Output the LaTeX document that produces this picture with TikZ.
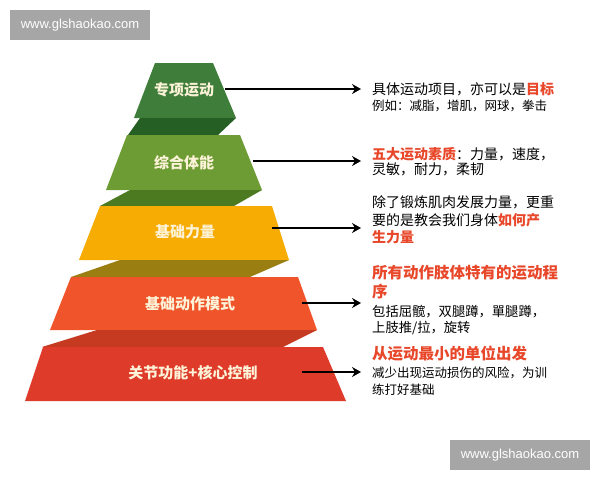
\documentclass[tikz,border=0pt]{standalone}
\usepackage{fontspec}
\setmainfont{Liberation Sans}
\newfontfamily\cjk{Noto Sans CJK SC}
\usetikzlibrary{arrows.meta}
\definecolor{tierone}{HTML}{3F7D3A}
\definecolor{tiertwo}{HTML}{6E9C34}
\definecolor{tierthree}{HTML}{F6AC02}
\definecolor{tierfour}{HTML}{F0542B}
\definecolor{tierfive}{HTML}{DE3B2B}
\definecolor{foldone}{HTML}{255F24}
\definecolor{foldtwo}{HTML}{4C7A20}
\definecolor{foldthree}{HTML}{9A7E12}
\definecolor{foldfour}{HTML}{C53A20}
\definecolor{labelcream}{HTML}{FDF3D8}
\definecolor{notered}{HTML}{E8472A}
\definecolor{wmgray}{HTML}{A6A6A6}
\tikzset{arrow/.style={-{Stealth[length=9pt,width=10pt,inset=3pt]}, line width=1.9pt, shorten >=11pt}}
\tikzset{tier-label/.style={font=\cjk\bfseries\fontsize{15}{16}\selectfont, text=labelcream}}
\tikzset{note/.style={anchor=base west, inner sep=0pt, font=\cjk\fontsize{14}{16}\selectfont}}
\tikzset{small-note/.style={note, font=\cjk\fontsize{12.5}{14}\selectfont}}
\tikzset{mid-note/.style={note, font=\cjk\fontsize{13.3}{15}\selectfont}}
\tikzset{head-note/.style={note, font=\cjk\bfseries\fontsize{15.5}{17}\selectfont, text=notered}}
\tikzset{watermark/.style={fill=wmgray, text=white, font=\fontsize{13}{15}\selectfont,
  minimum width=140pt, minimum height=30pt, inner sep=0pt}}
\newcommand{\hl}[1]{{\bfseries\color{notered}#1}}

\begin{document}
\begin{tikzpicture}[x=1pt, y=-1pt]
      \fill[white] (0,0) rectangle (600,480);
      \useasboundingbox (0,0) rectangle (600,480);

      \fill[tierone] (155,63) -- (213,63) -- (236,118) -- (134,118) -- cycle;
      \fill[foldone] (140,118) -- (236,118) -- (218,135) -- (128,135) -- cycle;
      \fill[tiertwo] (127,135) -- (240,135) -- (262,190) -- (106,190) -- cycle;
      \fill[foldtwo] (130,190) -- (262,190) -- (234,206) -- (100,206) -- cycle;
      \fill[tierthree] (100,206) -- (272,206) -- (289,260) -- (79,260) -- cycle;
      \fill[foldthree] (120,260) -- (289,260) -- (250,277) -- (71,277) -- cycle;
      \fill[tierfour] (71,277) -- (298,277) -- (317,330) -- (50,330) -- cycle;
      \fill[foldfour] (97,330) -- (317,330) -- (283,347) -- (42,347) -- cycle;
      \fill[tierfive] (43,347) -- (323,347) -- (346,401) -- (25,401) -- cycle;

      \node[tier-label] (l1) at (184,90) {专项运动};
      \node[tier-label] (l2) at (184,163) {综合体能};
      \node[tier-label] (l3) at (185,232) {基础力量};
      \node[tier-label] (l4) at (190,304) {基础动作模式};
      \node[tier-label] (l5) at (193,373) {关节功能+核心控制};

      \node[note] (t1a) at (372,94.3) {具体运动项目，亦可以是\hl{目标}};
      \node[small-note] (t1b) at (372,110.8) {例如：减脂，增肌，网球，拳击};
      \node[note] (t2a) at (372,159.3) {\hl{五大运动素质}：力量，速度，};
      \node[note] (t2b) at (372,174.3) {灵敏，耐力，柔韧};
      \node[note] (t3a) at (372,207.3) {除了锻炼肌肉发展力量，更重};
      \node[note] (t3b) at (372,225.3) {要的是教会我们身体\hl{如何产}};
      \node[note] (t3c) at (372,242.3) {\hl{生力量}};
      \node[head-note] (t4a) at (372,278.9) {所有动作肢体特有的运动程};
      \node[head-note] (t4b) at (372,297.9) {序};
      \node[mid-note] (t4c) at (372,316) {包括屈髋，双腿蹲，單腿蹲，};
      \node[mid-note] (t4d) at (372,332) {上肢推/拉，旋转};
      \node[head-note] (t5a) at (372,359.9) {从运动最小的单位出发};
      \node[small-note] (t5b) at (372,377.8) {减少出现运动损伤的风险，为训};
      \node[small-note] (t5c) at (372,394.8) {练打好基础};

      \coordinate (s1) at (225,89);
      \coordinate (s2) at (253,161);
      \coordinate (s3) at (272,228);
      \coordinate (s4) at (302,303);
      \coordinate (s5) at (302,372);

      \draw[arrow] (s1) -- (s1 -| t1a.west);
      \draw[arrow] (s2) -- (s2 -| t2a.west);
      \draw[arrow] (s3) -- (s3 -| t3b.west);
      \draw[arrow] (s4) -- (s4 -| t4c.west);
      \draw[arrow] (s5) -- (s5 -| t5b.west);

      \node[watermark] (wm1) at (80,25) {www.glshaokao.com};
      \node[watermark] (wm2) at (520,455) {www.glshaokao.com};

    \end{tikzpicture}
\end{document}
